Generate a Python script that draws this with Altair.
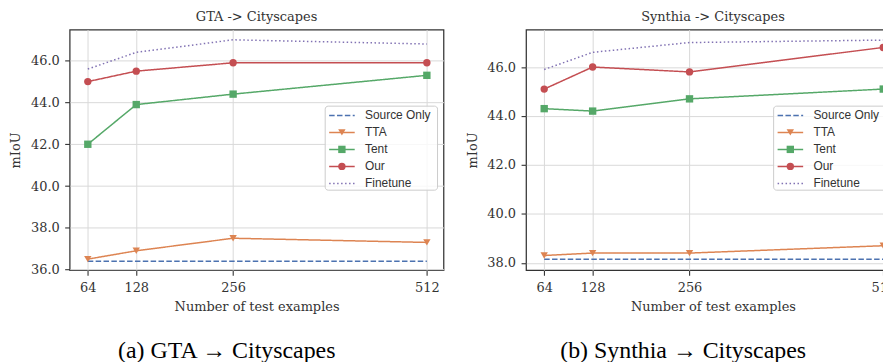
import altair as alt
import pandas as pd

# ---------------- data ----------------
n_examples = [64, 128, 256, 512]
methods = ["Source Only", "TTA", "Tent", "Our", "Finetune"]
marker_methods = ["TTA", "Tent", "Our"]
marker_shapes = ["triangle-down", "square", "circle"]
colors = ["#4C72B0", "#DD8452", "#55A868", "#C44E52", "#8172B3"]
dashes = [[5.5, 2.4], [1, 0], [1, 0], [1, 0], [1.5, 2.5]]

gta_source_only = [36.4, 36.4, 36.4, 36.4]
gta_tta = [36.5, 36.9, 37.5, 37.3]
gta_tent = [42.0, 43.9, 44.4, 45.3]
gta_our = [45.0, 45.5, 45.9, 45.9]
gta_finetune = [45.6, 46.4, 47.0, 46.8]

syn_source_only = [38.15, 38.15, 38.15, 38.15]
syn_tta = [38.3, 38.4, 38.4, 38.7]
syn_tent = [44.3, 44.2, 44.7, 45.1]
syn_our = [45.1, 46.0, 45.8, 46.8]
syn_finetune = [45.9, 46.6, 47.0, 47.1]

gta_yticks = [36, 38, 40, 42, 44, 46]
syn_yticks = [38, 40, 42, 44, 46]

titles = ["GTA -> Cityscapes", "Synthia -> Cityscapes"]
captions = ["(a) GTA \u2192 Cityscapes", "(b) Synthia \u2192 Cityscapes"]

W, H = 376, 242
SERIF = "DejaVu Serif"
TXT = "#333333"


def panel(series_lists, title, caption, ydomain, yticks, lx):
    rows = []
    for m, vals in zip(methods, series_lists):
        for n, v in zip(n_examples, vals):
            rows.append({"n": n, "miou": v, "method": m})
    df = pd.DataFrame(rows)

    x = alt.X("n:Q", scale=alt.Scale(domain=[40, 534], nice=False, zero=False),
              axis=alt.Axis(values=n_examples, format="d", title="Number of test examples"))
    y = alt.Y("miou:Q", scale=alt.Scale(domain=ydomain, nice=False, zero=False),
              axis=alt.Axis(values=yticks, format=".1f", title="mIoU"))
    color = alt.Color("method:N", scale=alt.Scale(domain=methods, range=colors), legend=None)
    dash = alt.StrokeDash("method:N", scale=alt.Scale(domain=methods, range=dashes), legend=None)

    lines = alt.Chart(df).mark_line(strokeWidth=1.5).encode(
        x=x, y=y, color=color, strokeDash=dash, detail="method:N")
    pts = alt.Chart(df).transform_filter(
        alt.FieldOneOfPredicate(field="method", oneOf=marker_methods)
    ).mark_point(filled=True, opacity=1, size=55, strokeWidth=0).encode(
        x=x, y=y, color=color,
        shape=alt.Shape("method:N", scale=alt.Scale(domain=marker_methods, range=marker_shapes), legend=None))

    layers = [lines, pts]

    # legend (drawn inside the plot, as in the reference); lx = left edge of its box
    one = pd.DataFrame({"k": [0]})
    layers.append(alt.Chart(one).mark_rect(
        fill="white", fillOpacity=0.8, stroke="#cccccc", strokeWidth=1, cornerRadius=3
    ).encode(x=alt.value(lx), x2=alt.value(lx + 113), y=alt.value(77), y2=alt.value(161.5)))
    y0, dy = 86.3, 17.1
    for i, m in enumerate(methods):
        yy = y0 + i * dy
        layers.append(alt.Chart(one).mark_rule(
            color=colors[i], strokeWidth=1.5, strokeDash=dashes[i]
        ).encode(x=alt.value(lx + 4), x2=alt.value(lx + 29.7), y=alt.value(yy)))
        if m in marker_methods:
            layers.append(alt.Chart(one).mark_point(
                filled=True, opacity=1, size=55, strokeWidth=0, color=colors[i],
                shape=marker_shapes[marker_methods.index(m)]
            ).encode(x=alt.value(lx + 16.8), y=alt.value(yy)))
        layers.append(alt.Chart(pd.DataFrame({"label": [m]})).mark_text(
            align="left", baseline="middle", font="Liberation Sans", fontSize=12, color=TXT
        ).encode(x=alt.value(lx + 40), y=alt.value(yy), text="label:N"))

    # sub-figure caption
    layers.append(alt.Chart(pd.DataFrame({"cap": [caption]})).mark_text(
        align="center", baseline="alphabetic", font="Liberation Serif", fontSize=24, color="black"
    ).encode(x=alt.value(158), y=alt.value(330), text="cap:N"))

    return alt.layer(*layers).properties(
        width=W, height=H,
        title=alt.TitleParams(title, font=SERIF, fontSize=13, fontWeight="normal",
                              color=TXT, offset=5.3))


left = panel([gta_source_only, gta_tta, gta_tent, gta_our, gta_finetune],
             titles[0], captions[0], [35.97, 47.49], gta_yticks, 257)
right = panel([syn_source_only, syn_tta, syn_tent, syn_our, syn_finetune],
              titles[1], captions[1], [37.70, 47.53], syn_yticks, 249)

chart = alt.hconcat(left, right, spacing=21).properties(
    padding={"left": 1, "top": 1.7, "right": -18, "bottom": -3},
    background="white",
).configure_view(
    stroke="#333333", strokeWidth=1.25
).configure_axis(
    labelFont=SERIF, labelFontSize=13, labelColor=TXT,
    titleFont=SERIF, titleFontSize=13, titleColor=TXT, titleFontWeight="normal",
    tickColor=TXT, tickSize=5, tickWidth=1.1, domain=False,
    gridColor="#d9d9d9", gridWidth=1,
).configure_axisX(
    labelPadding=6.5, titlePadding=6
).configure_axisY(
    labelPadding=5.5, titlePadding=7.5
)

chart.save("out.html", embed_options={"renderer": "svg", "actions": False})
